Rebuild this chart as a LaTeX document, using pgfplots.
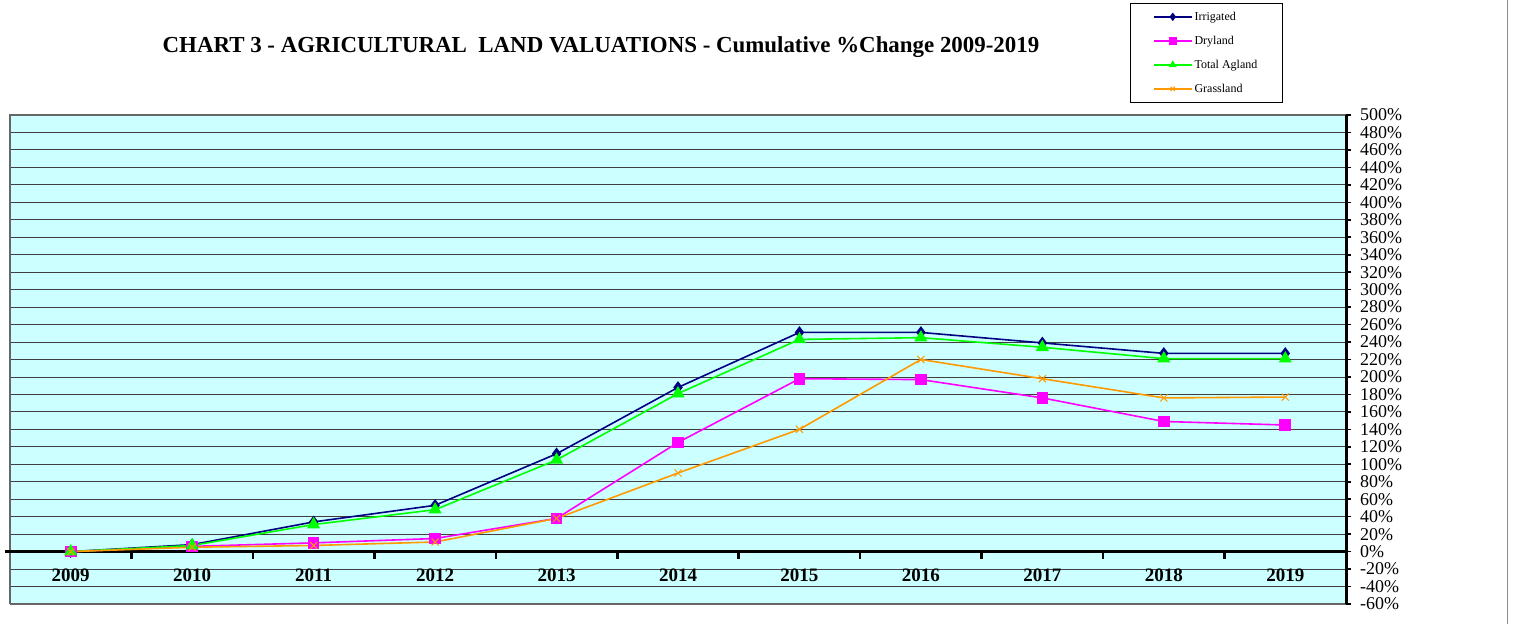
\documentclass[border=0pt]{standalone}
\usepackage{pgfplots}
\pgfplotsset{compat=1.18}
\usepackage{fontspec}
\setmainfont{Liberation Serif}
\definecolor{bgc}{HTML}{CCFFFF}
\definecolor{irr}{HTML}{000080}
\definecolor{dry}{HTML}{FF00FF}
\definecolor{tot}{HTML}{00FF00}
\definecolor{gra}{HTML}{FF9900}
\begin{document}
\begin{tikzpicture}
\useasboundingbox (0,0) rectangle (1516pt,624pt);
\node[font=\bfseries\fontsize{22.9}{25}\selectfont] at (601pt,577pt) {CHART 3 - AGRICULTURAL\ \ LAND VALUATIONS - Cumulative \%Change 2009-2019};
\draw[black!45, line width=1pt] (1507pt,0) -- (1507pt,624pt);
\begin{axis}[
 at={(10pt,20pt)}, anchor=south west,
 scale only axis, width=1336pt, height=489pt,
 xmin=-0.5, xmax=10.5, ymin=-60, ymax=500,
 axis background/.style={fill=bgc},
 axis line style={draw=none},
 ytick distance=20,
 ymajorgrids, grid style={black!75, line width=0.9pt},
 ytick pos=right, yticklabel pos=right,
 ytick style={black, line width=1.6pt},
 tick align=outside, major tick length=5pt,
 yticklabel={\pgfmathprintnumber{\tick}\%},
 /pgf/number format/assume math mode=true,
 yticklabel style={font=\fontsize{18}{18}\selectfont, xshift=5pt},
 xtick={0,...,10},
 xticklabels={2009,2010,2011,2012,2013,2014,2015,2016,2017,2018,2019},
 x tick style={draw=none},
 xticklabel style={font=\bfseries\fontsize{19}{19}\selectfont, yshift=44pt},
 clip=false,
 line width=1.6pt,
 legend style={at={(0.838,1.229)}, anchor=north west, draw=black, line width=0.8pt, fill=white,
   font=\fontsize{12}{12}\selectfont, inner xsep=23pt, inner ysep=6.5pt, row sep=10.2pt,
   legend cell align=left},
 legend image code/.code={\draw[mark repeat=2,mark phase=2] plot coordinates {(0pt,0pt) (19pt,0pt) (38pt,0pt)};},
 legend image post style={mark size=3pt, line width=1.6pt},
]
\draw[black!60, line width=1.2pt] (rel axis cs:0,0) -- (rel axis cs:0,1) -- (rel axis cs:1,1);
\draw[black!60, line width=1.2pt] (rel axis cs:0,0) -- (rel axis cs:1,0);
\draw[black, line width=3.5pt] (axis cs:-0.54,0) -- (axis cs:10.5,0);
\draw[black, line width=3pt] (rel axis cs:1,0) -- (rel axis cs:1,1);
\pgfplotsinvokeforeach{0.5,1.5,2.5,3.5,4.5,5.5,6.5,7.5,8.5,9.5}{
  \draw[black, line width=2.5pt] (axis cs:#1,0) -- ++(0pt,-7pt);
}
\addplot[color=irr, mark=diamond*, mark size=5pt] coordinates {
 (0,0) (1,8) (2,34) (3,53) (4,112) (5,188) (6,251) (7,251) (8,239) (9,227) (10,227)};
\addlegendentry{Irrigated}
\addplot[color=dry, mark=square*, mark size=5pt] coordinates {
 (0,0) (1,6) (2,10) (3,15) (4,38) (5,125) (6,198) (7,197) (8,176) (9,149) (10,145)};
\addlegendentry{Dryland}
\addplot[color=tot, mark=triangle*, mark size=6pt] coordinates {
 (0,0) (1,7) (2,31) (3,48) (4,105) (5,181) (6,243) (7,245) (8,234) (9,221) (10,221)};
\addlegendentry{Total Agland}
\addplot[color=gra, mark=x, mark size=5pt, mark options={line width=1pt}] coordinates {
 (0,0) (1,5) (2,7) (3,11) (4,38) (5,90) (6,140) (7,220) (8,198) (9,176) (10,177)};
\addlegendentry{Grassland}
\end{axis}
\end{tikzpicture}
\end{document}
